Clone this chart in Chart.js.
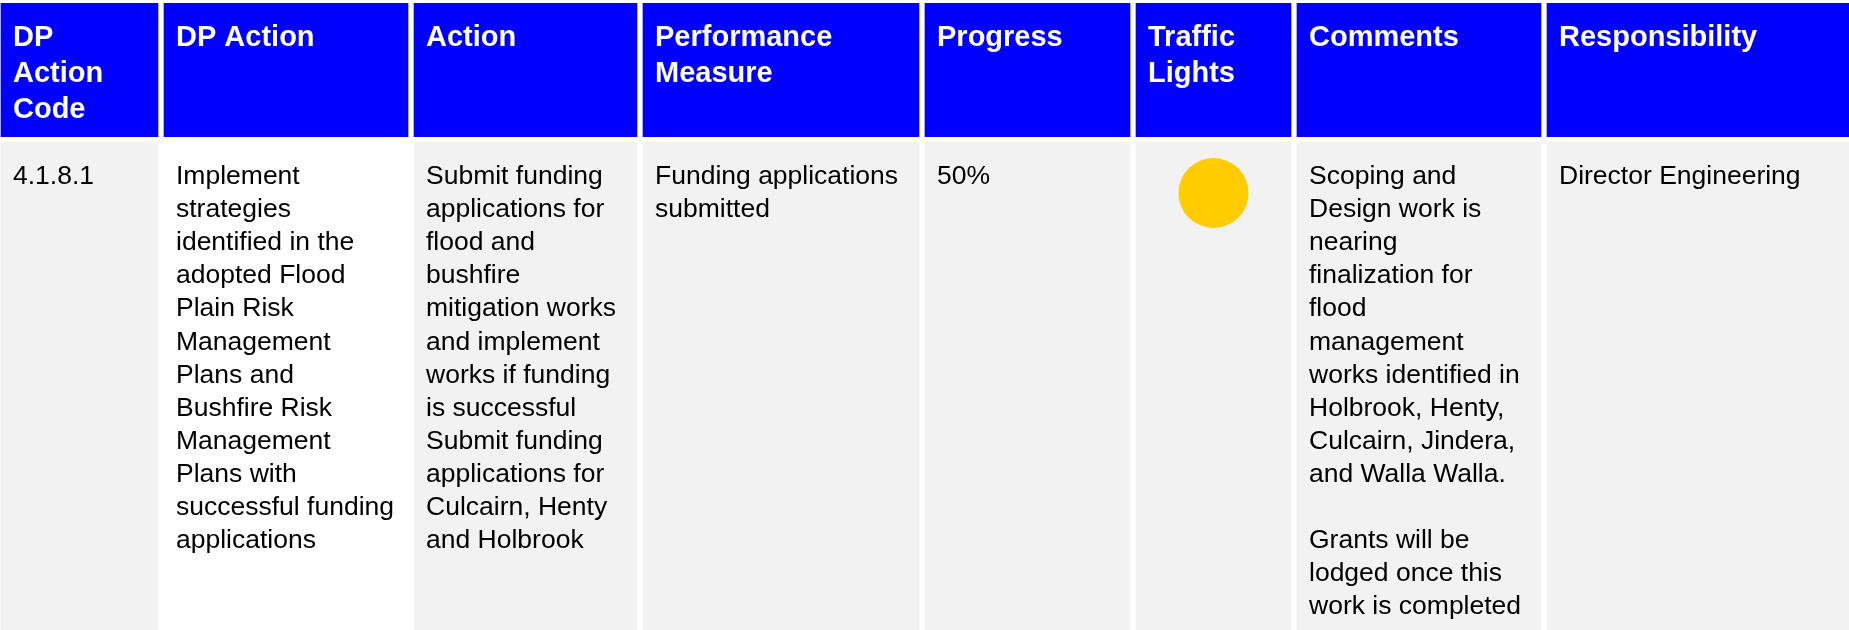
<!DOCTYPE html>
<html>
<head>
<meta charset="utf-8">
<script src="https://cdn.jsdelivr.net/npm/chart.js@4.4.1/dist/chart.umd.min.js"></script>
<style>
	html, body { margin:0; padding:0; background:#ffffff; }
	#cabecalho { position:relative; width:1849px; height:140px; }
	#corpo { position:relative; width:1849px; height:490px; }
</style>
</head>
<body>
<div id="cabecalho"><canvas id="graficoCabecalho"></canvas></div>
<div id="corpo"><canvas id="graficoCorpo"></canvas></div>
<script>
	// table content
	var headerLines = [
		['DP', 'Action', 'Code'],
		['DP Action'],
		['Action'],
		['Performance', 'Measure'],
		['Progress'],
		['Traffic', 'Lights'],
		['Comments'],
		['Responsibility']
	];
	var actionCode = ['4.1.8.1'];
	var dpAction = ['Implement', 'strategies', 'identified in the', 'adopted Flood', 'Plain Risk',
		'Management', 'Plans and', 'Bushfire Risk', 'Management', 'Plans with',
		'successful funding', 'applications'];
	var action = ['Submit funding', 'applications for', 'flood and', 'bushfire', 'mitigation works',
		'and implement', 'works if funding', 'is successful', 'Submit funding', 'applications for',
		'Culcairn, Henty', 'and Holbrook'];
	var performanceMeasure = ['Funding applications', 'submitted'];
	var progress = [50];
	var trafficLight = ['amber'];
	var comments = ['Scoping and', 'Design work is', 'nearing', 'finalization for', 'flood',
		'management', 'works identified in', 'Holbrook, Henty,', 'Culcairn, Jindera,',
		'and Walla Walla.', '', 'Grants will be', 'lodged once this', 'work is completed'];
	var responsibility = ['Director Engineering'];

	// layout
	var colWidths = [157, 244, 223, 276, 205, 155, 244, 302];
	var colGap = 6;
	var tableLeft = 1;
	var tableWidth = 1849;
	var bodyFills = ['#f2f2f2', '#ffffff', '#f2f2f2', '#f2f2f2', '#f2f2f2', '#f2f2f2', '#f2f2f2', '#f2f2f2'];
	var lightColors = { green: '#00b050', amber: '#ffcc00', red: '#ff0000' };

	var bodyLines = [
		actionCode,
		dpAction,
		action,
		performanceMeasure,
		progress.map(function(v){ return v + '%'; }),
		[],
		comments,
		responsibility
	];

	var colunas = [];
	var x = tableLeft;
	colWidths.forEach(function(w){
		colunas.push([x, x + w]);
		x += w + colGap;
	});

	var textoCelulas = {
		id: 'textoCelulas',
		afterDatasetsDraw: function(chart, args, opts){
			var ctx = chart.ctx;
			chart.data.datasets.forEach(function(ds, i){
				var el = chart.getDatasetMeta(i).data[0];
				var p = el.getProps(['x', 'y', 'base', 'height'], true);
				var left = Math.min(p.x, p.base);
				var top = p.y - p.height / 2;
				ctx.save();
				ctx.fillStyle = opts.color;
				ctx.font = opts.font;
				ctx.textBaseline = 'alphabetic';
				ctx.textAlign = 'left';
				ds.lines.forEach(function(t, k){
					ctx.fillText(t, left + opts.padX, top + opts.firstLine + k * opts.lineHeight);
				});
				if (ds.light) {
					ctx.fillStyle = lightColors[ds.light];
					ctx.beginPath();
					ctx.arc((p.x + p.base) / 2, top + 51, 35, 0, Math.PI * 2);
					ctx.fill();
				}
				ctx.restore();
			});
		}
	};

	function criarTabela(id, label, linhas, cores, padding, texto){
		var datasets = colunas.map(function(c, i){
			return {
				label: 'col' + i,
				data: [c],
				backgroundColor: cores[i],
				borderWidth: 0,
				grouped: false,
				barPercentage: 1,
				categoryPercentage: 1,
				lines: linhas[i],
				light: (label === 'Body' && i === 5) ? trafficLight[0] : null
			};
		});
		var ctx = document.getElementById(id).getContext('2d');
		new Chart(ctx, {
			type: 'bar',
			data: { labels: [label], datasets: datasets },
			options: {
				indexAxis: 'y',
				responsive: true,
				maintainAspectRatio: false,
				animation: false,
				layout: { padding: padding },
				scales: {
					x: { type: 'linear', min: 0, max: tableWidth, display: false },
					y: { display: false }
				},
				plugins: {
					legend: { display: false },
					tooltip: { enabled: false },
					textoCelulas: texto
				}
			},
			plugins: [textoCelulas]
		});
	}

	criarTabela('graficoCabecalho', 'Header', headerLines,
		colWidths.map(function(){ return '#0000ff'; }),
		{ top: 3, bottom: 3, left: 0, right: 0 },
		{ color: '#ffffff', font: 'bold 29px "Liberation Sans", Arial, sans-serif', padX: 12, firstLine: 43, lineHeight: 36 });

	criarTabela('graficoCorpo', 'Body', bodyLines, bodyFills,
		{ top: 2, bottom: 0, left: 0, right: 0 },
		{ color: '#000000', font: '26.5px "Liberation Sans", Arial, sans-serif', padX: 12, firstLine: 42, lineHeight: 33.1 });
</script>
</body>
</html>
